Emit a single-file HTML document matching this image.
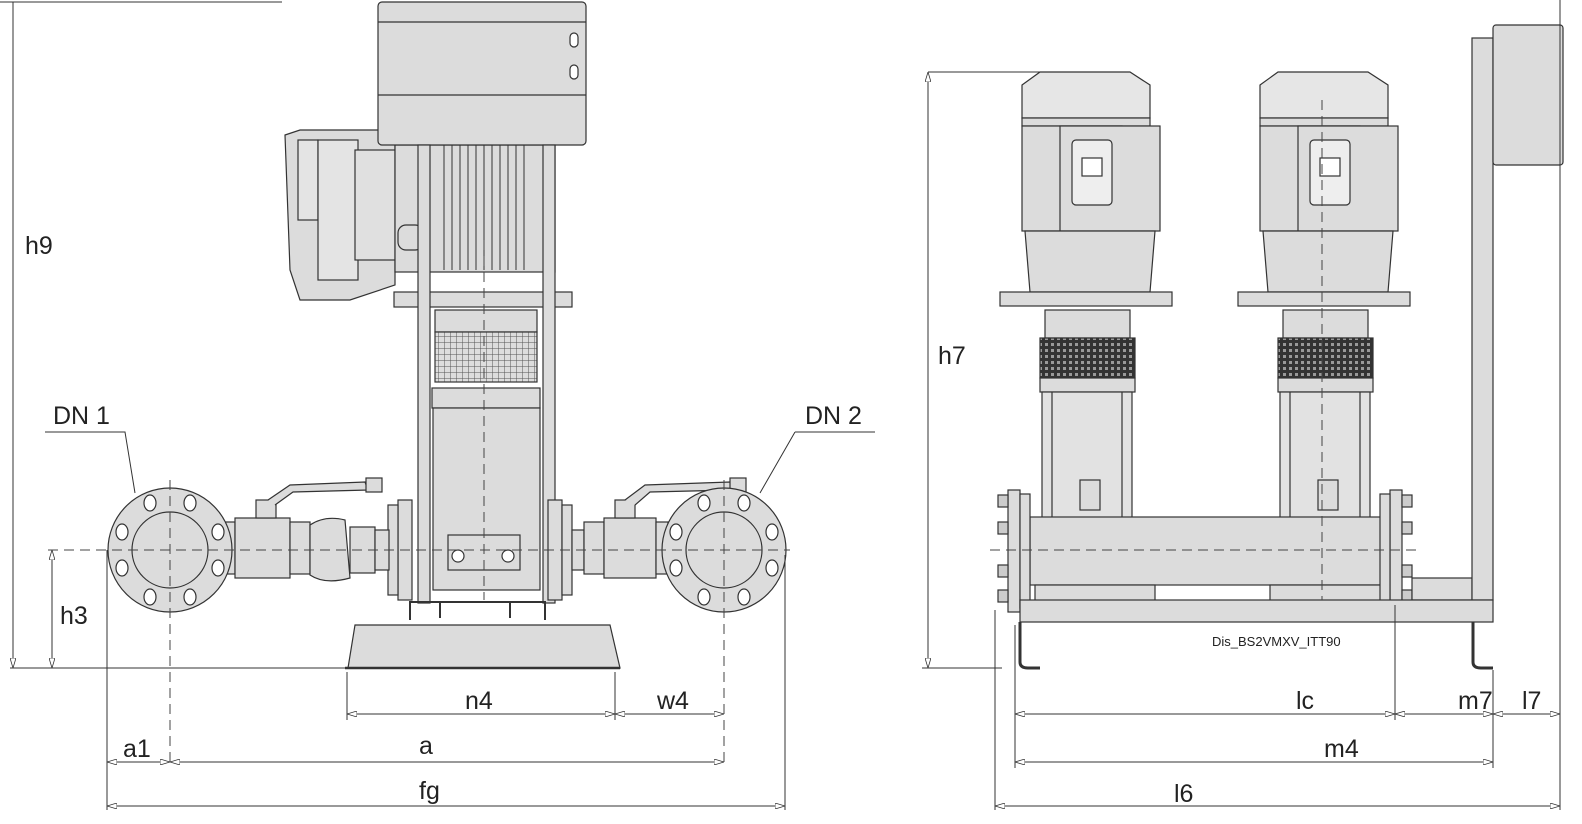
<!DOCTYPE html>
<html><head><meta charset="utf-8"><style>
html,body{margin:0;padding:0;background:#fff;}
svg{display:block;}
text{font-family:"Liberation Sans Narrow","Liberation Sans",sans-serif;fill:#222;}
</style></head><body>
<svg width="1582" height="824" viewBox="0 0 1582 824" xmlns="http://www.w3.org/2000/svg">
<defs>
<marker id="ar" viewBox="0 0 10 6" refX="10" refY="3" markerWidth="10" markerHeight="6" orient="auto-start-reverse" markerUnits="userSpaceOnUse"><path d="M0,0 L10,3 L0,6 Z" fill="#fff" stroke="#333" stroke-width="0.8"/></marker>
<pattern id="mesh" width="6" height="6" patternUnits="userSpaceOnUse"><rect width="6" height="6" fill="#ddd"/><path d="M0,0H6M0,0V6" stroke="#555" stroke-width="1"/></pattern>
<pattern id="mesh2" width="6" height="6" patternUnits="userSpaceOnUse"><rect width="6" height="6" fill="#333"/><rect x="1" y="1" width="3" height="3" fill="#999"/></pattern>
</defs>
<g stroke="#333" stroke-width="1.2" fill="#dcdcdc">
<path d="M285,135 L300,130 L380,130 L395,140 L395,285 L350,300 L300,300 L290,270 Z"/>
<rect x="298" y="140" width="20" height="80" fill="#e4e4e4"/>
<rect x="318" y="140" width="40" height="140" fill="#e4e4e4"/>
<rect x="355" y="150" width="40" height="110" fill="#e0e0e0"/>
<rect x="395" y="145" width="160" height="127"/>
<g stroke-width="1">
<path d="M444,145V270M452,145V270M460,145V270M468,145V270M476,145V270M484,145V270M492,145V270M500,145V270M508,145V270M516,145V270M524,145V270"/>
</g>
<rect x="398" y="225" width="25" height="25" rx="8"/>
<rect x="378" y="2" width="208" height="143" rx="4"/>
<path d="M378,22H586M378,95H586" fill="none"/>
<rect x="570" y="33" width="8" height="14" rx="4" fill="#fff"/>
<rect x="570" y="65" width="8" height="14" rx="4" fill="#fff"/>
<rect x="394" y="292" width="178" height="15"/>
<rect x="435" y="310" width="102" height="22"/>
<rect x="435" y="332" width="102" height="50" fill="url(#mesh)"/>
<rect x="432" y="388" width="108" height="20"/>
<rect x="433" y="408" width="107" height="182"/>
<rect x="448" y="535" width="72" height="35"/>
<circle cx="458" cy="556" r="6" fill="#fff"/><circle cx="508" cy="556" r="6" fill="#fff"/>
<rect x="418" y="145" width="12" height="458"/>
<rect x="543" y="145" width="12" height="458"/>
<path d="M410,620 V602 H545 V620 M440,602 V618 M510,602 V618" fill="none" stroke-width="2"/>
<path d="M348,668 L355,625 L610,625 L620,668 Z"/>
<path d="M345,668H620" stroke-width="2.5"/>
<rect x="398" y="500" width="14" height="100"/><rect x="388" y="505" width="10" height="90"/>
<rect x="548" y="500" width="14" height="100"/><rect x="562" y="505" width="10" height="90"/>
<rect x="225" y="522" width="10" height="52"/>
<rect x="235" y="518" width="55" height="60"/>
<rect x="290" y="522" width="20" height="52"/>
<path d="M310,525 Q325,515 345,520 L350,578 Q325,585 310,575 Z"/>
<rect x="350" y="527" width="25" height="46"/>
<rect x="375" y="530" width="14" height="40"/>
<rect x="256" y="500" width="20" height="18"/>
<path d="M268,500 L290,485 L365,482 L368,490 L293,492 L275,505" />
<rect x="366" y="478" width="16" height="14"/>
<rect x="572" y="530" width="12" height="40"/>
<rect x="584" y="522" width="20" height="52"/>
<rect x="604" y="518" width="52" height="60"/>
<rect x="656" y="522" width="12" height="52"/>
<rect x="615" y="500" width="20" height="18"/>
<path d="M625,500 L645,485 L730,482 L732,490 L650,492 L635,505"/>
<rect x="730" y="478" width="16" height="14"/>
<circle cx="170" cy="550" r="62"/>
<circle cx="170" cy="550" r="38"/>
<circle cx="724" cy="550" r="62"/>
<circle cx="724" cy="550" r="38"/>
<g fill="#fff">
<ellipse cx="150" cy="503" rx="6" ry="8"/><ellipse cx="190" cy="503" rx="6" ry="8"/>
<ellipse cx="150" cy="597" rx="6" ry="8"/><ellipse cx="190" cy="597" rx="6" ry="8"/>
<ellipse cx="122" cy="532" rx="6" ry="8"/><ellipse cx="122" cy="568" rx="6" ry="8"/>
<ellipse cx="218" cy="532" rx="6" ry="8"/><ellipse cx="218" cy="568" rx="6" ry="8"/>
<ellipse cx="704" cy="503" rx="6" ry="8"/><ellipse cx="744" cy="503" rx="6" ry="8"/>
<ellipse cx="704" cy="597" rx="6" ry="8"/><ellipse cx="744" cy="597" rx="6" ry="8"/>
<ellipse cx="676" cy="532" rx="6" ry="8"/><ellipse cx="676" cy="568" rx="6" ry="8"/>
<ellipse cx="772" cy="532" rx="6" ry="8"/><ellipse cx="772" cy="568" rx="6" ry="8"/>
</g>
<g id="pumpA">
<path d="M1022,85 L1040,72 L1130,72 L1150,85 L1150,118 L1022,118 Z" fill="#e6e6e6"/>
<rect x="1022" y="118" width="128" height="8"/>
<rect x="1022" y="126" width="100" height="105"/>
<rect x="1060" y="126" width="100" height="105"/>
<rect x="1072" y="140" width="40" height="65" rx="4" fill="#eee"/>
<rect x="1082" y="158" width="20" height="18" fill="#fff"/>
<path d="M1025,231 L1155,231 L1150,292 L1030,292 Z"/>
<rect x="1000" y="292" width="172" height="14"/>
<rect x="1045" y="310" width="85" height="28"/>
<rect x="1040" y="338" width="95" height="40" fill="url(#mesh2)"/>
<rect x="1040" y="378" width="95" height="14"/>
<rect x="1042" y="392" width="90" height="128" fill="#e2e2e2"/>
<path d="M1052,392V520M1122,392V520" fill="none"/>
<rect x="1080" y="480" width="20" height="30"/>
</g>
<use href="#pumpA" x="238"/>
<rect x="1030" y="517" width="360" height="68"/>
<rect x="1035" y="585" width="120" height="17"/><rect x="1270" y="585" width="120" height="17"/>
<rect x="1008" y="490" width="12" height="122"/><rect x="1020" y="494" width="10" height="114"/>
<rect x="1390" y="490" width="12" height="122"/><rect x="1380" y="494" width="10" height="114"/>
<g fill="#ccc">
<rect x="998" y="495" width="10" height="12"/><rect x="998" y="522" width="10" height="12"/><rect x="998" y="565" width="10" height="12"/><rect x="998" y="590" width="10" height="12"/>
<rect x="1402" y="495" width="10" height="12"/><rect x="1402" y="522" width="10" height="12"/><rect x="1402" y="565" width="10" height="12"/><rect x="1402" y="590" width="10" height="12"/>
</g>
<rect x="1412" y="578" width="60" height="22"/>
<rect x="1472" y="38" width="21" height="562"/>
<rect x="1493" y="25" width="70" height="140" rx="3"/>
<rect x="1020" y="600" width="473" height="22"/>
<path d="M1020,622 V662 Q1020,668 1028,668 H1040 M1473,622 V662 Q1473,668 1481,668 H1493" fill="none" stroke-width="3"/>
</g>
<g stroke="#444" stroke-width="1" stroke-dasharray="10,6" fill="none">
<path d="M48,550H790"/><path d="M170,480V762"/><path d="M724,480V762"/><path d="M484,240V600"/>
<path d="M990,550H1418"/><path d="M1322,100V600"/>
</g>
<g stroke="#333" stroke-width="1" fill="none">
<path d="M0,2H282"/><path d="M13,2V668" marker-end="url(#ar)"/>
<path d="M10,668H345"/>
<path d="M52,550V668" marker-start="url(#ar)" marker-end="url(#ar)"/>
<path d="M107,550V810M785,555V810M347,672V720M615,672V720"/>
<path d="M347,714H615" marker-start="url(#ar)" marker-end="url(#ar)"/>
<path d="M615,714H724" marker-start="url(#ar)" marker-end="url(#ar)"/>
<path d="M107,762H170" marker-start="url(#ar)" marker-end="url(#ar)"/>
<path d="M170,762H724" marker-start="url(#ar)" marker-end="url(#ar)"/>
<path d="M107,806H785" marker-start="url(#ar)" marker-end="url(#ar)"/>
<path d="M45,432H125L135,493" /><path d="M795,432H875M795,432L760,493"/>
<path d="M928,72H1040"/><path d="M928,72V668" marker-start="url(#ar)" marker-end="url(#ar)"/>
<path d="M922,668H1002"/>
<path d="M1015,625V768M1395,605V720M1493,670V768M1560,0V810M995,610V810"/>
<path d="M1015,714H1395" marker-start="url(#ar)" marker-end="url(#ar)"/>
<path d="M1395,714H1493" marker-start="url(#ar)" marker-end="url(#ar)"/>
<path d="M1493,714H1560" marker-start="url(#ar)" marker-end="url(#ar)"/>
<path d="M1015,762H1493" marker-start="url(#ar)" marker-end="url(#ar)"/>
<path d="M995,806H1560" marker-start="url(#ar)" marker-end="url(#ar)"/>
</g>
<g font-size="25">
<text x="25" y="254">h9</text>
<text x="60" y="624">h3</text>
<text x="53" y="424">DN 1</text>
<text x="805" y="424">DN 2</text>
<text x="465" y="709">n4</text>
<text x="657" y="709">w4</text>
<text x="123" y="757">a1</text>
<text x="419" y="754">a</text>
<text x="419" y="799">fg</text>
<text x="938" y="364">h7</text>
<text x="1296" y="709">lc</text>
<text x="1458" y="709">m7</text>
<text x="1522" y="709">l7</text>
<text x="1324" y="757">m4</text>
<text x="1174" y="802">l6</text>
</g>
<text x="1212" y="646" font-size="13" style="font-family:'Liberation Sans',sans-serif">Dis_BS2VMXV_ITT90</text>
</svg>
</body></html>
